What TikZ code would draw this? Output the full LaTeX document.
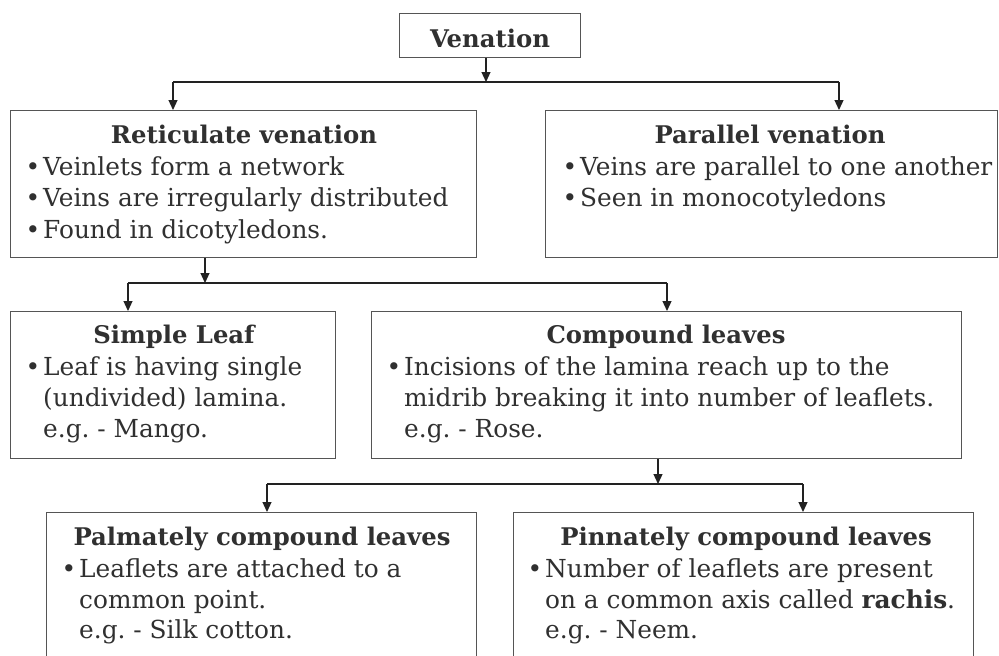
\documentclass[tikz,border=0pt]{standalone}
\usepackage{fontspec}
\setmainfont{DejaVu Serif}
\usetikzlibrary{arrows.meta}
\frenchspacing

\definecolor{ink}{HTML}{303030}
\definecolor{frame}{HTML}{555555}
\definecolor{wire}{HTML}{222222}

% bullet hung to the left of a line
\newcommand{\itembul}{\llap{\textbullet\hspace{3pt}}}

\tikzset{
  x=1pt, y=-1pt,
  box/.style={draw=frame, line width=1.4pt, anchor=north west, inner sep=0pt},
  heading/.style={anchor=base, inner sep=0pt, text=ink,
    font=\fontsize{24.3}{28}\selectfont\bfseries},
  bodyline/.style={anchor=base west, inner sep=0pt, text=ink,
    font=\fontsize{24.8}{30}\selectfont},
  link/.style={draw=wire, line width=1.2pt},
  arrowlink/.style={link, -{Triangle[width=9pt,length=10pt]}},
}

\begin{document}
\begin{tikzpicture}
\clip (0,0) rectangle (999,656);
\fill[white] (0,0) rectangle (999,656);

% ---- boxes ----
\node[box, minimum width=181pt, minimum height=44pt] (ven) at (399,13) {};
\node[box, minimum width=466pt, minimum height=147pt] (ret) at (10,110) {};
\node[box, minimum width=452pt, minimum height=147pt] (par) at (545,110) {};
\node[box, minimum width=325pt, minimum height=147pt] (sim) at (10,311) {};
\node[box, minimum width=590pt, minimum height=147pt] (com) at (371,311) {};
\node[box, minimum width=430pt, minimum height=180pt] (pal) at (46,512) {};
\node[box, minimum width=460pt, minimum height=180pt] (pin) at (513,512) {};

% ---- texts ----
\node[heading] (venT) at (490,47) {Venation};

\node[heading] (retT) at (244,143) {Reticulate venation};
\node[bodyline] (ret1) at (43,175) {\itembul Veinlets form a network};
\node[bodyline] (ret2) at (43,206) {\itembul Veins are irregularly distributed};
\node[bodyline] (ret3) at (43,238) {\itembul Found in dicotyledons.};

\node[heading] (parT) at (770,143) {Parallel venation};
\node[bodyline] (par1) at (580,175) {\itembul Veins are parallel to one another};
\node[bodyline] (par2) at (580,206) {\itembul Seen in monocotyledons};

\node[heading] (simT) at (174,343) {Simple Leaf};
\node[bodyline] (sim1) at (43,375) {\itembul Leaf is having single};
\node[bodyline] (sim2) at (43,406) {(undivided) lamina.};
\node[bodyline] (sim3) at (43,437) {e.g. - Mango.};

\node[heading] (comT) at (666,343) {Compound leaves};
\node[bodyline] (com1) at (404,375) {\itembul Incisions of the lamina reach up to the};
\node[bodyline] (com2) at (404,406) {midrib breaking it into number of leaflets.};
\node[bodyline] (com3) at (404,437) {e.g. - Rose.};

\node[heading] (palT) at (262,545) {Palmately compound leaves};
\node[bodyline] (pal1) at (79,577) {\itembul Leaflets are attached to a};
\node[bodyline] (pal2) at (79,608) {common point.};
\node[bodyline] (pal3) at (79,638) {e.g. - Silk cotton.};

\node[heading] (pinT) at (746,545) {Pinnately compound leaves};
\node[bodyline] (pin1) at (545,577) {\itembul Number of leaflets are present};
\node[bodyline] (pin2) at (545,608) {on a common axis called \textbf{rachis}.};
\node[bodyline] (pin3) at (545,638) {e.g. - Neem.};

% ---- junction points ----
\coordinate (j1) at (486,82);
\coordinate (j1l) at (173,82);
\coordinate (j1r) at (839,82);
\coordinate (j2) at (205,283);
\coordinate (j2l) at (128,283);
\coordinate (j2r) at (667,283);
\coordinate (j3) at (658,484);
\coordinate (j3l) at (267,484);
\coordinate (j3r) at (803,484);

% ---- connectors ----
\draw[arrowlink] (ven.south -| j1) -- (j1);
\draw[link] (j1l) -- (j1r);
\draw[arrowlink] (j1l) -- (ret.north -| j1l);
\draw[arrowlink] (j1r) -- (par.north -| j1r);

\draw[arrowlink] (ret.south -| j2) -- (j2);
\draw[link] (j2l) -- (j2r);
\draw[arrowlink] (j2l) -- (sim.north -| j2l);
\draw[arrowlink] (j2r) -- (com.north -| j2r);

\draw[arrowlink] (com.south -| j3) -- (j3);
\draw[link] (j3l) -- (j3r);
\draw[arrowlink] (j3l) -- (pal.north -| j3l);
\draw[arrowlink] (j3r) -- (pin.north -| j3r);
\end{tikzpicture}
\end{document}
